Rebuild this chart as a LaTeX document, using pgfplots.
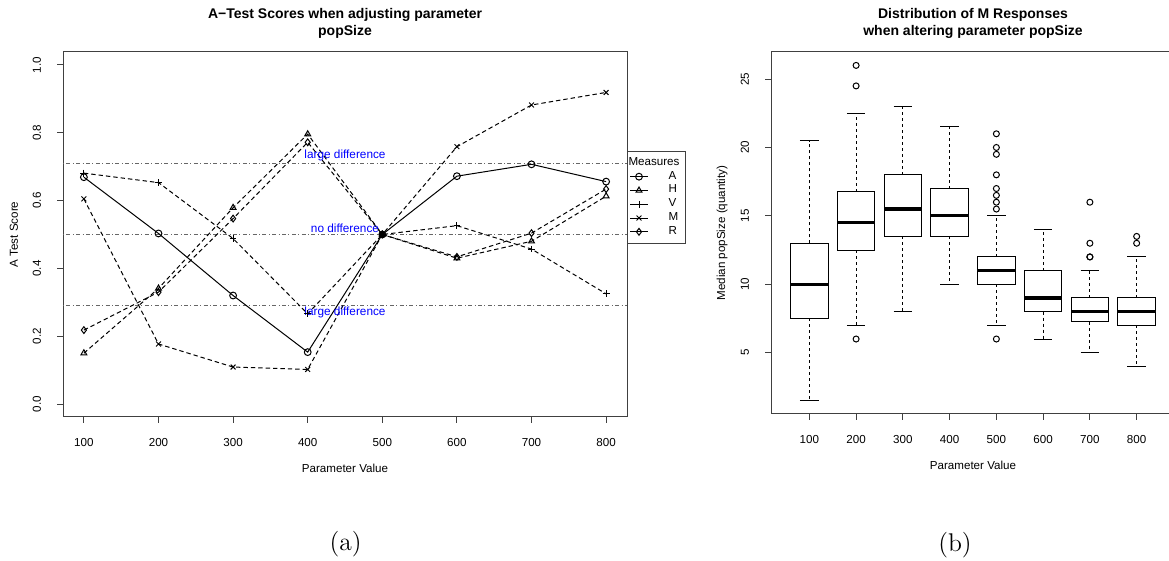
\documentclass[border=0pt]{standalone}
\usepackage{fontspec}
\setsansfont{Liberation Sans}
\usepackage{pgfplots}
\usepgfplotslibrary{statistics}
\pgfplotsset{compat=1.18}

\newcommand{\rfont}{\sffamily\fontsize{5.8}{7}\selectfont}

\pgfplotsset{
  rplot/.style={
    scale only axis,
    anchor=south west,
    axis line style={black!75, line width=0.5pt},
    tick style={black!75, line width=0.5pt},
    tick align=outside,
    major tick length=3pt,
    xtick pos=bottom, ytick pos=left,
    /pgf/number format/assume math mode=true,
    tick label style={font=\rfont},
    xticklabel shift=4pt,
    yticklabel shift=4.5pt,
    yticklabel style={rotate=90, anchor=south},
    every axis title/.style={at={(axis description cs:0.5,1)}, anchor=center, yshift=14.25pt,
      align=center, font=\sffamily\bfseries\fontsize{7}{8.5}\selectfont},
    every axis x label/.style={at={(axis description cs:0.5,0)}, yshift=-25.5pt, anchor=center, font=\rfont},
    every axis y label/.style={at={(axis description cs:0,0.5)}, xshift=-24.5pt, rotate=90, anchor=center, font=\rfont},
  },
  rline/.style={black, line width=0.5pt, mark size=1.7pt, mark options={solid}},
  rdash/.style={rline, dash pattern=on 2.2pt off 1.5pt},
  refline/.style={black!60, line width=0.5pt, dash pattern=on 0.5pt off 1.2pt on 2pt off 1.2pt, forget plot},
  rbox/.style={black, line width=0.5pt, solid, mark=o, mark size=1.5pt, fill=white,
    boxplot/draw direction=y,
    boxplot/box extend=0.8, boxplot/whisker extend=0.4,
    boxplot/every median/.style={line width=1.6pt},
    boxplot/draw/lower whisker/.code={%
      \draw[dash pattern=on 1.5pt off 1.5pt] (boxplot cs:\pgfplotsboxplotvalue{lower quartile}) -- (boxplot cs:\pgfplotsboxplotvalue{lower whisker});
      \draw (boxplot whisker cs:\pgfplotsboxplotvalue{lower whisker},0) -- (boxplot whisker cs:\pgfplotsboxplotvalue{lower whisker},1);
    },
    boxplot/draw/upper whisker/.code={%
      \draw[dash pattern=on 1.5pt off 1.5pt] (boxplot cs:\pgfplotsboxplotvalue{upper quartile}) -- (boxplot cs:\pgfplotsboxplotvalue{upper whisker});
      \draw (boxplot whisker cs:\pgfplotsboxplotvalue{upper whisker},0) -- (boxplot whisker cs:\pgfplotsboxplotvalue{upper whisker},1);
    },
  },
}

\begin{document}
\begin{tikzpicture}
\path[use as bounding box] (0,0) rectangle (584.5pt,280.5pt);
\clip (0,0) rectangle (584.5pt,280.5pt);

% (a) A-test scores
\begin{axis}[rplot,
  at={(31.5pt,72pt)}, width=282pt, height=182.5pt,
  xmin=72, xmax=828, ymin=-0.0383, ymax=1.0383,
  xtick={100,200,300,400,500,600,700,800},
  xticklabels={100,200,300,400,500,600,700,800},
  ytick={0,0.2,0.4,0.6,0.8,1},
  yticklabels={0.0,0.2,0.4,0.6,0.8,1.0},
  title={A−Test Scores when adjusting parameter\\popSize},
  xlabel={Parameter Value}, ylabel={A Test Score},
  clip=false,
  legend style={at={(1,0.729)}, anchor=north west, draw=black!75, line width=0.5pt,
    font=\rfont, inner sep=1pt, row sep=-2.6pt,
    cells={anchor=west},
    /tikz/every odd column/.append style={column sep=8pt}},
  legend image code/.code={\draw[solid, mark repeat=2, mark phase=2] plot coordinates {(0pt,0pt) (4.5pt,0pt) (9pt,0pt)};},
]
\addplot[refline] coordinates {(72,0.71) (828,0.71)};
\addplot[refline] coordinates {(72,0.5) (828,0.5)};
\addplot[refline] coordinates {(72,0.29) (828,0.29)};

\addlegendimage{empty legend}
\addlegendentry{\hspace*{-20pt}Measures\rule[-3.5pt]{0pt}{2pt}}

\addplot[rline, mark=o] coordinates {
(100,0.669) (200,0.503) (300,0.320) (400,0.153) (500,0.500) (600,0.672) (700,0.707) (800,0.656)};
\addlegendentry{A}
\addplot[rdash, mark=triangle] coordinates {
(100,0.150) (200,0.341) (300,0.579) (400,0.796) (500,0.500) (600,0.430) (700,0.480) (800,0.613)};
\addlegendentry{H}
\addplot[rdash, mark=+] coordinates {
(100,0.681) (200,0.653) (300,0.488) (400,0.266) (500,0.500) (600,0.526) (700,0.457) (800,0.325)};
\addlegendentry{V}
\addplot[rdash, mark=x] coordinates {
(100,0.605) (200,0.177) (300,0.109) (400,0.102) (500,0.500) (600,0.759) (700,0.882) (800,0.919)};
\addlegendentry{M}
\addplot[rdash, mark=diamond] coordinates {
(100,0.218) (200,0.330) (300,0.547) (400,0.772) (500,0.500) (600,0.434) (700,0.504) (800,0.634)};
\addlegendentry{R}

\node[text=blue, font=\sffamily\fontsize{5.9}{7}\selectfont] at (axis cs:450,0.732) {large difference};
\node[text=blue, font=\sffamily\fontsize{5.9}{7}\selectfont] at (axis cs:450,0.518) {no difference};
\node[text=blue, font=\sffamily\fontsize{5.9}{7}\selectfont] at (axis cs:450,0.271) {large difference};
\end{axis}

% (b) distribution of M responses
\begin{axis}[rplot,
  at={(385.5pt,73.5pt)}, width=202pt, height=181pt,
  xmin=0.18, xmax=8.82, ymin=0.52, ymax=26.98,
  xtick={1,2,3,4,5,6,7,8},
  xticklabels={100,200,300,400,500,600,700,800},
  ytick={5,10,15,20,25},
  yticklabels={5,10,15,20,25},
  title={Distribution of M Responses\\when altering parameter popSize},
  xlabel={Parameter Value}, ylabel={Median popSize (quantity)},
]
\addplot[rbox, boxplot prepared={draw position=1, lower whisker=1.5, lower quartile=7.5,
  median=10, upper quartile=13, upper whisker=20.5}] coordinates {};
\addplot[rbox, boxplot prepared={draw position=2, lower whisker=7, lower quartile=12.5,
  median=14.5, upper quartile=16.75, upper whisker=22.5}] coordinates {(0,26) (0,24.5) (0,6)};
\addplot[rbox, boxplot prepared={draw position=3, lower whisker=8, lower quartile=13.5,
  median=15.5, upper quartile=18, upper whisker=23}] coordinates {};
\addplot[rbox, boxplot prepared={draw position=4, lower whisker=10, lower quartile=13.5,
  median=15, upper quartile=17, upper whisker=21.5}] coordinates {};
\addplot[rbox, boxplot prepared={draw position=5, lower whisker=7, lower quartile=10,
  median=11, upper quartile=12, upper whisker=15}] coordinates {
  (0,21) (0,20) (0,19.5) (0,18) (0,17) (0,16.5) (0,16) (0,15.5) (0,6)};
\addplot[rbox, boxplot prepared={draw position=6, lower whisker=6, lower quartile=8,
  median=9, upper quartile=11, upper whisker=14}] coordinates {};
\addplot[rbox, boxplot prepared={draw position=7, lower whisker=5, lower quartile=7.25,
  median=8, upper quartile=9, upper whisker=11}] coordinates {(0,16) (0,13) (0,12) (0,12)};
\addplot[rbox, boxplot prepared={draw position=8, lower whisker=4, lower quartile=7,
  median=8, upper quartile=9, upper whisker=12}] coordinates {(0,13.5) (0,13)};
\end{axis}

\node[font=\fontsize{12.8}{15}\selectfont, inner sep=0pt] at (172.85pt,8.5pt) {(a)};
\node[font=\fontsize{12.8}{15}\selectfont, inner sep=0pt] at (477.5pt,8pt) {(b)};
\end{tikzpicture}
\end{document}
